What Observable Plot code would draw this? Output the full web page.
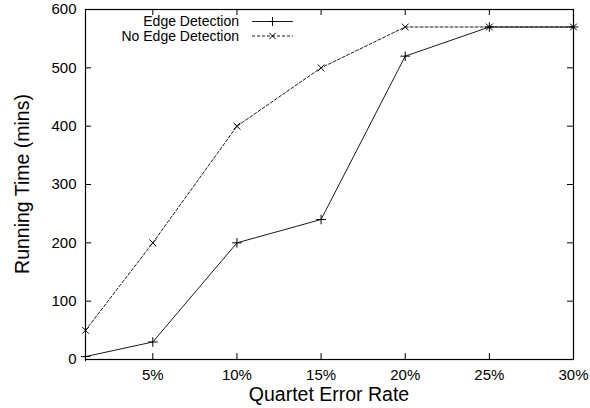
<!DOCTYPE html>
<html>
<head>
<meta charset="utf-8">
<script src="https://cdn.jsdelivr.net/npm/d3@7"></script>
<script src="https://cdn.jsdelivr.net/npm/@observablehq/plot@0.6"></script>
<style>
  html, body { margin: 0; padding: 0; background: #fff; }
  svg { font-family: "Liberation Sans", Arial, sans-serif; }
</style>
</head>
<body>
<div id="chart"></div>
<script>
const errorRates = [1, 5, 10, 15, 20, 25, 30];
const edgeDetection = [5, 30, 200, 240, 520, 570, 570];
const noEdgeDetection = [50, 200, 400, 500, 570, 570, 570];
const seriesNames = ["Edge Detection", "No Edge Detection"];
const xTicks = [5, 10, 15, 20, 25, 30];
const yTicks = [0, 100, 200, 300, 400, 500, 600];

const edgeData = errorRates.map((x, i) => ({x, y: edgeDetection[i]}));
const noEdgeData = errorRates.map((x, i) => ({x, y: noEdgeDetection[i]}));

const W = 590, H = 408, mL = 85, mR = 17, mT = 9, mB = 49;
const fw = W - mL - mR, fh = H - mT - mB, tk = 6;

const plot = Plot.plot({
  width: W, height: H,
  marginLeft: mL, marginRight: mR, marginTop: mT, marginBottom: mB,
  style: {fontFamily: "'Liberation Sans', Arial, sans-serif", background: "#fff", color: "#000"},
  x: {domain: [1, 30], ticks: xTicks, tickFormat: d => d + "%", tickSize: 0, tickPadding: 10, label: null},
  y: {domain: [0, 600], ticks: yTicks, tickSize: 0, tickPadding: 9, label: null},
  marks: [
    Plot.ruleX(xTicks, {x: d => d, insetTop: fh - tk, stroke: "#000"}),
    Plot.ruleX(xTicks, {x: d => d, insetBottom: fh - tk, stroke: "#000"}),
    Plot.ruleY(yTicks, {y: d => d, insetRight: fw - tk, stroke: "#000"}),
    Plot.ruleY(yTicks, {y: d => d, insetLeft: fw - tk, stroke: "#000"}),
    Plot.line(noEdgeData, {x: "x", y: "y", stroke: "#000", strokeWidth: 0.9, strokeDasharray: "3,2"}),
    Plot.dot(noEdgeData, {x: "x", y: "y", symbol: "times", r: 3.2, stroke: "#000", strokeWidth: 1}),
    Plot.line(edgeData, {x: "x", y: "y", stroke: "#000", strokeWidth: 0.9}),
    Plot.dot(edgeData, {x: "x", y: "y", symbol: "plus", r: 3.2, stroke: "#000", strokeWidth: 1}),
    Plot.frame({stroke: "#000", strokeWidth: 1.2})
  ]
});

const svg = d3.select(plot);
svg.selectAll("g[aria-label='x-axis tick label'] text, g[aria-label='y-axis tick label'] text")
  .style("font-size", "15px");
svg.selectAll("g[aria-label='x-axis tick label'], g[aria-label='y-axis tick label']")
  .attr("font-size", 15);

// Axis titles
svg.append("text")
  .attr("x", mL + fw / 2).attr("y", H - 7)
  .attr("text-anchor", "middle").attr("font-size", 19.5)
  .text("Quartet Error Rate");
svg.append("text")
  .attr("transform", `translate(29,${mT + fh / 2}) rotate(-90)`)
  .attr("text-anchor", "middle").attr("font-size", 19.5)
  .text("Running Time (mins)");

// Legend
const leg = svg.append("g");
const styles = [{dash: null, sym: d3.symbolPlus}, {dash: "3,2", sym: d3.symbolTimes}];
seriesNames.forEach((name, i) => {
  const y = 21.5 + i * 14.5;
  leg.append("text").attr("x", 239).attr("y", y).attr("dy", "0.35em")
    .attr("text-anchor", "end").attr("font-size", 14).text(name);
  leg.append("line").attr("x1", 252).attr("x2", 293).attr("y1", y).attr("y2", y)
    .attr("stroke", "#000").attr("stroke-width", 0.9).attr("stroke-dasharray", styles[i].dash);
  leg.append("path").attr("transform", `translate(272.5,${y})`)
    .attr("d", d3.symbol(styles[i].sym, 28)()).attr("fill", "none").attr("stroke", "#000");
});

document.getElementById("chart").appendChild(plot);
</script>
</body>
</html>
